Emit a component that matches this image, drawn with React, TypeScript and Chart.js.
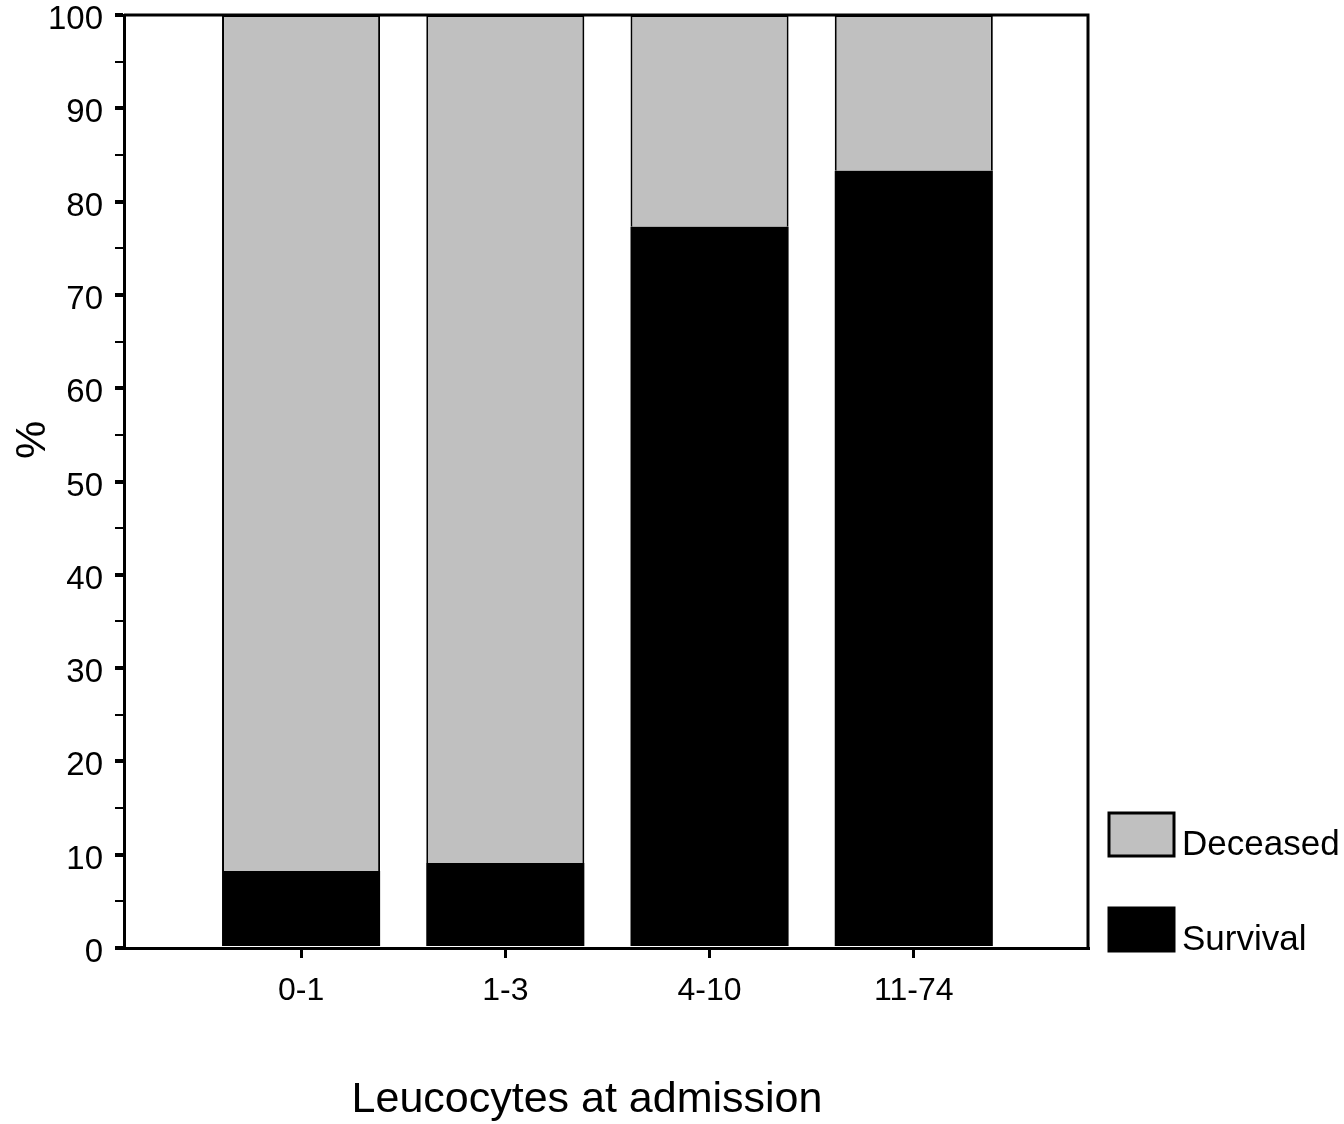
import React, { useEffect, useRef } from "react";
import { Chart, registerables } from "chart.js";

Chart.register(...registerables);

const categories = ["0-1", "1-3", "4-10", "11-74"];
const survival = [8.25, 9.1, 77.3, 83.3];
const deceased = [91.75, 90.9, 22.7, 16.7];
const seriesNames = ["Survival", "Deceased"];
const seriesColors = ["#000000", "#C0C0C0"];
const xTitle = "Leucocytes at admission";
const yTitle = "%";

const FONT = "'Liberation Sans', Arial, sans-serif";

const decorPlugin = {
  id: "decor",
  afterDraw(chart: any) {
    const { ctx, chartArea } = chart;
    const { left, right, top, bottom } = chartArea;
    ctx.save();
    // top and right frame
    ctx.strokeStyle = "#000";
    ctx.lineWidth = 3;
    ctx.beginPath();
    ctx.moveTo(left, top);
    ctx.lineTo(right, top);
    ctx.lineTo(right, bottom);
    ctx.stroke();

    // x title
    ctx.fillStyle = "#000";
    ctx.font = `43px ${FONT}`;
    ctx.textAlign = "center";
    ctx.textBaseline = "middle";
    ctx.fillText(xTitle, left + 463, bottom + 152);

    // y title
    ctx.save();
    ctx.translate(33, top + 425);
    ctx.rotate(-Math.PI / 2);
    ctx.font = `43px ${FONT}`;
    ctx.fillText(yTitle, 0, 0);
    ctx.restore();

    // legend (Deceased on top, Survival below)
    const order = [1, 0];
    const boxX = right + 21;
    const boxW = 65;
    const boxH = 43;
    const firstTop = bottom - 135;
    const gap = 95;
    ctx.font = `35px ${FONT}`;
    ctx.textAlign = "left";
    ctx.textBaseline = "alphabetic";
    order.forEach((di, k) => {
      const y = firstTop + k * gap;
      ctx.fillStyle = seriesColors[di];
      ctx.fillRect(boxX, y, boxW, boxH);
      ctx.strokeStyle = "#000";
      ctx.lineWidth = 3;
      ctx.strokeRect(boxX, y, boxW, boxH);
      ctx.fillStyle = "#000";
      ctx.fillText(seriesNames[di], boxX + 73, y + boxH - 1);
    });
    ctx.restore();
  },
};

export default function App() {
  const ref = useRef<HTMLCanvasElement | null>(null);

  useEffect(() => {
    if (!ref.current) return;
    const chart = new Chart(ref.current, {
      type: "bar",
      data: {
        datasets: [
          {
            label: seriesNames[0],
            data: survival.map((v, i) => ({ x: i, y: v })),
            backgroundColor: seriesColors[0],
            borderColor: "#000",
            borderWidth: 0,
            barPercentage: 0.774,
            categoryPercentage: 1,
          },
          {
            label: seriesNames[1],
            data: deceased.map((v, i) => ({ x: i, y: v })),
            backgroundColor: seriesColors[1],
            borderColor: "#000",
            borderWidth: 2,
            barPercentage: 0.774,
            categoryPercentage: 1,
          },
        ],
      },
      options: {
        responsive: false,
        animation: false,
        devicePixelRatio: 1,
        layout: { padding: { left: 0, top: 15, right: 256, bottom: 0 } },
        plugins: {
          legend: { display: false },
          tooltip: { enabled: false },
        },
        scales: {
          x: {
            type: "linear",
            stacked: true,
            offset: false,
            min: -0.867,
            max: 3.853,
            afterBuildTicks: (scale: any) => {
              scale.ticks = categories.map((_, i) => ({ value: i }));
            },
            afterFit: (scale: any) => {
              scale.height = 176;
              scale.paddingLeft = 0;
              scale.paddingRight = 0;
            },
            ticks: {
              callback: (v: any) => categories[v as number] ?? "",
              autoSkip: false,
              maxRotation: 0,
              padding: 14,
              color: "#000",
              font: { family: FONT, size: 32 },
            },
            grid: {
              display: true,
              offset: false,
              drawOnChartArea: false,
              drawTicks: true,
              tickLength: 10,
              color: "#000",
              lineWidth: 3,
            },
            border: { display: true, color: "#000", width: 3 },
          },
          y: {
            stacked: true,
            min: 0,
            max: 100,
            afterFit: (scale: any) => {
              scale.width = 124;
              scale.paddingTop = 0;
              scale.paddingBottom = 0;
            },
            ticks: {
              stepSize: 5,
              callback: (v: any) => ((v as number) % 10 === 0 ? String(v) : ""),
              padding: 12,
              labelOffset: 5,
              color: "#000",
              font: { family: FONT, size: 33 },
            },
            grid: {
              display: true,
              drawOnChartArea: false,
              drawTicks: true,
              tickLength: 9,
              color: "#000",
              lineWidth: (c: any) => (c.tick && c.tick.value % 10 === 0 ? 4 : 2),
            },
            border: { display: true, color: "#000", width: 3 },
          },
        },
      },
      plugins: [decorPlugin],
    } as any);
    return () => chart.destroy();
  }, []);

  return (
    <div style={{ position: "fixed", left: 0, top: 0, width: 1344, height: 1124, background: "#fff" }}>
      <canvas ref={ref} width={1344} height={1124} style={{ display: "block" }} />
    </div>
  );
}
